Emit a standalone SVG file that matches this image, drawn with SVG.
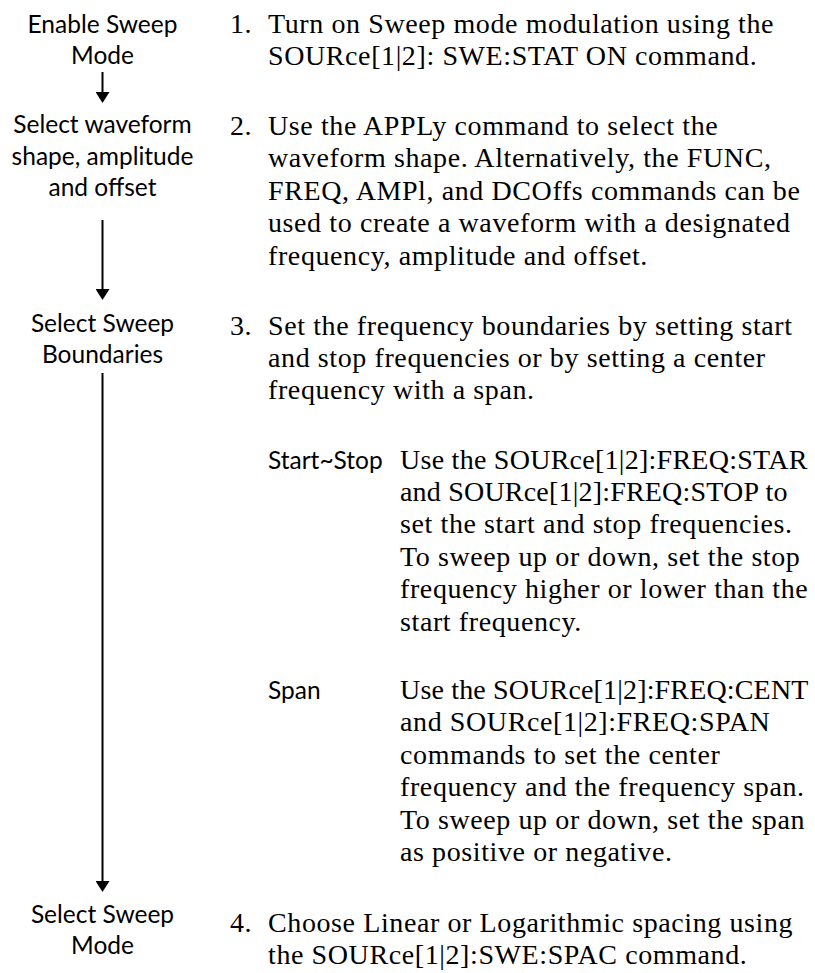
<svg xmlns="http://www.w3.org/2000/svg" width="815" height="973" viewBox="0 0 815 973">
<defs>
<style>
.lbl{font-family:Lato,"Open Sans","DejaVu Sans",sans-serif;font-size:24.5px;fill:#000;text-anchor:middle}
.sub{font-family:Lato,"Open Sans","DejaVu Sans",sans-serif;font-size:24.5px;fill:#000}
.txt{font-family:"Liberation Serif","DejaVu Serif",serif;font-size:28px;fill:#000;letter-spacing:0.6px}
.conn{stroke:#000;stroke-width:2;fill:none}
</style>
<marker id="ah" viewBox="0 0 11 14" refX="0" refY="7" markerWidth="11" markerHeight="14" markerUnits="userSpaceOnUse" orient="auto">
<path d="M0,0 L11,7 L0,14 Z" fill="#000"/>
</marker>
</defs>
<rect width="815" height="973" fill="#fff"/>
<g id="connectors">
<line class="conn" x1="102.5" y1="72" x2="102.5" y2="92" marker-end="url(#ah)"/>
<line class="conn" x1="102.5" y1="220" x2="102.5" y2="289" marker-end="url(#ah)"/>
<line class="conn" x1="102.5" y1="373" x2="102.5" y2="881" marker-end="url(#ah)"/>
</g>
<g id="node-enable-sweep">
<text class="lbl" x="102.5" y="33">Enable Sweep</text>
<text class="lbl" x="102.5" y="64">Mode</text>
</g>
<g id="node-select-waveform">
<text class="lbl" x="102.5" y="133">Select waveform</text>
<text class="lbl" x="102.5" y="164.5">shape, amplitude</text>
<text class="lbl" x="102.5" y="196">and offset</text>
</g>
<g id="node-select-boundaries">
<text class="lbl" x="102.5" y="332">Select Sweep</text>
<text class="lbl" x="102.5" y="363">Boundaries</text>
</g>
<g id="node-select-mode">
<text class="lbl" x="102.5" y="923">Select Sweep</text>
<text class="lbl" x="102.5" y="954">Mode</text>
</g>
<g id="step1">
<text class="txt" x="230" y="33">1.</text>
<text class="txt" x="268" y="33">Turn on Sweep mode modulation using the</text>
<text class="txt" x="268" y="65.4">SOURce[1|2]: SWE:STAT ON command.</text>
</g>
<g id="step2">
<text class="txt" x="230" y="135">2.</text>
<text class="txt" x="268" y="135">Use the APPLy command to select the</text>
<text class="txt" x="268" y="167.4">waveform shape. Alternatively, the FUNC,</text>
<text class="txt" x="268" y="199.8">FREQ, AMPl, and DCOffs commands can be</text>
<text class="txt" x="268" y="232.2">used to create a waveform with a designated</text>
<text class="txt" x="268" y="264.6">frequency, amplitude and offset.</text>
</g>
<g id="step3">
<text class="txt" x="230" y="334.5">3.</text>
<text class="txt" x="268" y="334.5">Set the frequency boundaries by setting start</text>
<text class="txt" x="268" y="366.9">and stop frequencies or by setting a center</text>
<text class="txt" x="268" y="399.3">frequency with a span.</text>
</g>
<g id="step3-start-stop">
<text class="sub" x="268" y="468.5">Start~Stop</text>
<text class="txt" x="400" y="468.5" textLength="408" lengthAdjust="spacing">Use the SOURce[1|2]:FREQ:STAR</text>
<text class="txt" x="400" y="500.9" textLength="388" lengthAdjust="spacing">and SOURce[1|2]:FREQ:STOP to</text>
<text class="txt" x="400" y="533.3">set the start and stop frequencies.</text>
<text class="txt" x="400" y="565.7">To sweep up or down, set the stop</text>
<text class="txt" x="400" y="598.1">frequency higher or lower than the</text>
<text class="txt" x="400" y="630.5">start frequency.</text>
</g>
<g id="step3-span">
<text class="sub" x="268" y="699">Span</text>
<text class="txt" x="400" y="699" textLength="409" lengthAdjust="spacing">Use the SOURce[1|2]:FREQ:CENT</text>
<text class="txt" x="400" y="731.4">and SOURce[1|2]:FREQ:SPAN</text>
<text class="txt" x="400" y="763.8">commands to set the center</text>
<text class="txt" x="400" y="796.2">frequency and the frequency span.</text>
<text class="txt" x="400" y="828.6">To sweep up or down, set the span</text>
<text class="txt" x="400" y="861">as positive or negative.</text>
</g>
<g id="step4">
<text class="txt" x="230" y="932">4.</text>
<text class="txt" x="268" y="932">Choose Linear or Logarithmic spacing using</text>
<text class="txt" x="268" y="964.4">the SOURce[1|2]:SWE:SPAC command.</text>
</g>
</svg>
